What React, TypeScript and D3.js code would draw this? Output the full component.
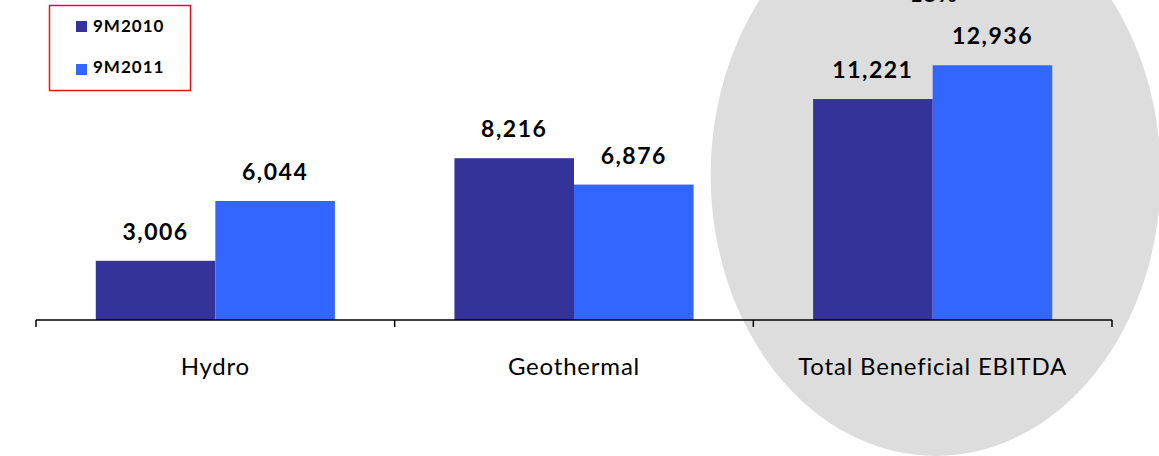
import React from "react";
import * as d3 from "d3";

const categories = ["Hydro", "Geothermal", "Total Beneficial EBITDA"];
const seriesNames = ["9M2010", "9M2011"];
const values2010 = [3006, 8216, 11221];
const values2011 = [6044, 6876, 12936];
const growthLabel = "15%";

const W = 1159;
const H = 456;
const colors = ["#333399", "#3366FF"];

export default function App() {
  const x = d3.scaleBand<string>().domain(categories).range([36, 1112]).paddingInner(0).paddingOuter(0);
  const x1 = d3.scaleBand<string>().domain(seriesNames).range([0, x.bandwidth()]).paddingInner(0).paddingOuter(0.5);
  const y = d3.scaleLinear().domain([0, 16250]).range([320, 0]);
  const series = [values2010, values2011];
  const fmt = d3.format(",");
  const baseY = y(0);
  const ticks = [...categories.map((c) => x(c)!), 1112];

  const last = categories[categories.length - 1];
  const ecx = x(last)! + x.bandwidth() / 2 + 3;

  return (
    <svg width={W} height={H} style={{ position: "absolute", left: 0, top: 0, background: "#fff" }}>
      <ellipse cx={ecx} cy={175} rx={225} ry={281} fill="#DDDDDD" />
      <text x={ecx - 2} y={2} textAnchor="middle" fontFamily="Lato" fontWeight={700} fontSize={23} letterSpacing={1} fill="#000">
        {growthLabel}
      </text>
      {categories.map((c, i) =>
        seriesNames.map((s, j) => {
          const v = series[j][i];
          const bx = x(c)! + x1(s)!;
          const by = y(v);
          return (
            <g key={c + s}>
              <rect x={bx} y={by} width={x1.bandwidth()} height={baseY - by} fill={colors[j]} />
              <text
                x={bx + x1.bandwidth() / 2}
                y={by - 21}
                textAnchor="middle"
                fontFamily="Lato"
                fontWeight={700}
                fontSize={23}
                letterSpacing={1.5}
                fill="#000"
              >
                {fmt(v)}
              </text>
            </g>
          );
        })
      )}
      <line x1={36} x2={1112} y1={baseY} y2={baseY} stroke="#000" strokeWidth={1.5} />
      {ticks.map((t, i) => (
        <line key={i} x1={t} x2={t} y1={baseY} y2={baseY + 7} stroke="#000" strokeWidth={1.5} />
      ))}
      {categories.map((c) => (
        <text
          key={c}
          x={x(c)! + x.bandwidth() / 2}
          y={375}
          textAnchor="middle"
          fontFamily="Lato"
          fontSize={24}
          letterSpacing={0.8}
          fill="#000"
        >
          {c}
        </text>
      ))}
      <rect x={49.5} y={5.5} width={141} height={85} fill="#fff" stroke="#EE1111" strokeWidth={1.5} />
      {seriesNames.map((s, j) => (
        <g key={s}>
          <rect x={76} y={21 + j * 43} width={11} height={11} fill={colors[j]} />
          <text x={93} y={32 + j * 41} fontFamily="Lato" fontWeight={700} fontSize={17} letterSpacing={1} fill="#000">
            {s}
          </text>
        </g>
      ))}
    </svg>
  );
}
